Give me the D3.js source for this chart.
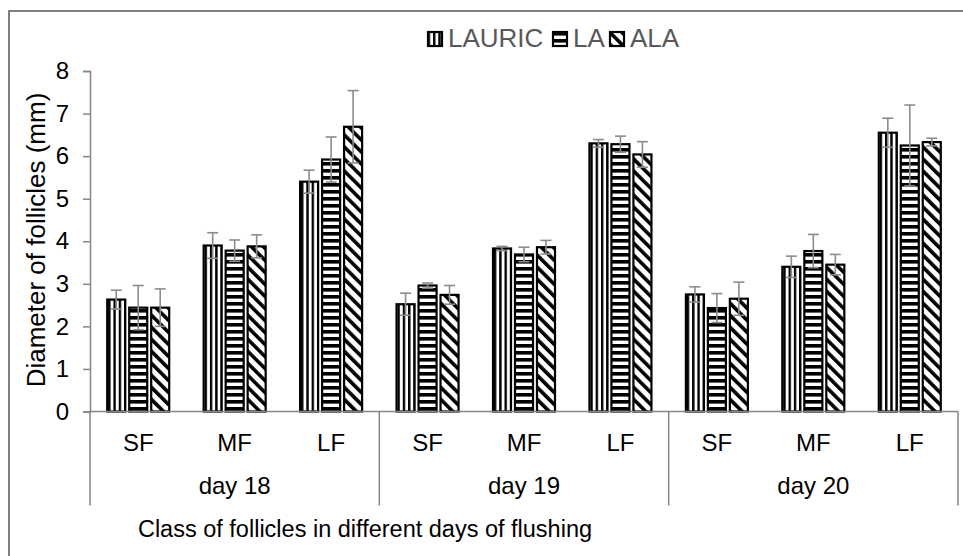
<!DOCTYPE html>
<html>
<head>
<meta charset="utf-8">
<script src="https://cdn.jsdelivr.net/npm/d3@7"></script>
<style>
  body { margin: 0; background: #fff; }
  text { font-family: "Liberation Sans", Arial, sans-serif; }
</style>
</head>
<body>
<div id="chart"></div>
<script>

// data
var days = ["day 18", "day 19", "day 20"];
var classes = ["SF", "MF", "LF"];
var series = ["LAURIC", "LA", "ALA"];
var lauric    = [2.63, 3.90, 5.40, 2.52, 3.83, 6.30, 2.75, 3.40, 6.55];
var lauricErr = [0.22, 0.30, 0.27, 0.26, 0.05, 0.09, 0.18, 0.25, 0.34];
var la        = [2.44, 3.78, 5.92, 2.96, 3.69, 6.28, 2.43, 3.77, 6.25];
var laErr     = [0.52, 0.25, 0.53, 0.06, 0.17, 0.19, 0.34, 0.39, 0.95];
var ala       = [2.44, 3.88, 6.69, 2.74, 3.86, 6.04, 2.65, 3.45, 6.33];
var alaErr    = [0.44, 0.27, 0.85, 0.22, 0.16, 0.30, 0.39, 0.24, 0.09];
var yTicks = [0, 1, 2, 3, 4, 5, 6, 7, 8];

var width = 963, height = 556;
var margin = {top: 71, right: 5, bottom: 144.5, left: 90};
var plotW = width - margin.left - margin.right,
    plotH = height - margin.top - margin.bottom;

var svg = d3.select("#chart")
  .append("svg")
    .attr("width", width)
    .attr("height", height);

// outer frame
svg.append("path")
  .attr("d", "M9," + height + "V11H" + width)
  .attr("fill", "none")
  .attr("stroke", "#555")
  .attr("stroke-width", 1.5);

var defs = svg.append("defs");

var g = svg.append("g")
  .attr("transform", "translate(" + margin.left + "," + margin.top + ")");

// category keys
var cats = [];
days.forEach(function(d) { classes.forEach(function(c) { cats.push(d + "|" + c); }); });

var values = {LAURIC: lauric, LA: la, ALA: ala};
var errs = {LAURIC: lauricErr, LA: laErr, ALA: alaErr};

var rows = [];
cats.forEach(function(k, i) {
  series.forEach(function(s) {
    rows.push({cat: k, series: s, value: values[s][i], err: errs[s][i], idx: i});
  });
});

var x0 = d3.scaleBand().domain(cats).range([0, plotW]);
var x1 = d3.scaleBand().domain(series)
  .range([x0.bandwidth() / 2 - 31, x0.bandwidth() / 2 + 31])
  .paddingInner(0.18);
var y = d3.scaleLinear().domain([0, 8]).range([plotH, 0]);

var gx = d3.scaleBand().domain(days).range([0, plotW]);

// patterns
function makePattern(id, s, px) {
  var p = defs.append("pattern")
    .attr("id", id)
    .attr("patternUnits", "userSpaceOnUse");
  if (s === "LAURIC") {
    p.attr("width", 5.3).attr("height", 10).attr("x", px + 1);
    p.append("rect").attr("width", 5.3).attr("height", 10).attr("fill", "#fff");
    p.append("rect").attr("width", 2.4).attr("height", 10).attr("fill", "#000");
  } else if (s === "LA") {
    p.attr("width", 10).attr("height", 7).attr("y", 0);
    p.append("rect").attr("width", 10).attr("height", 7).attr("fill", "#fff");
    p.append("rect").attr("width", 10).attr("height", 3.6).attr("fill", "#000");
  } else {
    p.attr("width", 8.5).attr("height", 8.5)
      .attr("patternTransform", "translate(" + px + ",0) rotate(-45)");
    p.append("rect").attr("width", 8.5).attr("height", 8.5).attr("fill", "#fff");
    p.append("rect").attr("width", 3.6).attr("height", 8.5).attr("fill", "#000");
  }
}

rows.forEach(function(d, i) {
  var bx = margin.left + x0(d.cat) + x1(d.series);
  makePattern("pat" + i, d.series, bx);
});

// bars
g.selectAll(".bar")
  .data(rows)
  .enter()
  .append("rect")
    .attr("class", "bar")
    .attr("x", function(d) { return x0(d.cat) + x1(d.series); })
    .attr("width", x1.bandwidth())
    .attr("y", function(d) { return y(d.value); })
    .attr("height", function(d) { return plotH - y(d.value); })
    .attr("fill", function(d, i) { return "url(#pat" + i + ")"; })
    .attr("stroke", "#000")
    .attr("stroke-width", 2.2);

// error bars
var eb = g.selectAll(".err")
  .data(rows)
  .enter()
  .append("g")
    .attr("class", "err")
    .attr("stroke", "#8c8c8c")
    .attr("stroke-width", 1.6);
eb.append("line")
  .attr("x1", function(d) { return x0(d.cat) + x1(d.series) + x1.bandwidth() / 2; })
  .attr("x2", function(d) { return x0(d.cat) + x1(d.series) + x1.bandwidth() / 2; })
  .attr("y1", function(d) { return y(d.value - d.err); })
  .attr("y2", function(d) { return y(d.value + d.err); });
[1, -1].forEach(function(sign) {
  eb.append("line")
    .attr("x1", function(d) { return x0(d.cat) + x1(d.series) + x1.bandwidth() / 2 - 5.5; })
    .attr("x2", function(d) { return x0(d.cat) + x1(d.series) + x1.bandwidth() / 2 + 5.5; })
    .attr("y1", function(d) { return y(d.value + sign * d.err); })
    .attr("y2", function(d) { return y(d.value + sign * d.err); });
});

// y axis
var yAxis = g.append("g")
  .call(d3.axisLeft(y).tickValues(yTicks).tickSize(7).tickPadding(14).tickFormat(d3.format("d")));
yAxis.select(".domain").attr("stroke", "#868686").attr("stroke-width", 1.5);
yAxis.selectAll(".tick line").attr("stroke", "#868686").attr("stroke-width", 1.5);
yAxis.selectAll("text")
  .attr("font-size", 24)
  .attr("fill", "#000")
  .style("font-family", "'Liberation Sans', Arial, sans-serif");

// x axis: category line, group dividers, labels
var axisCol = "#868686";
g.append("line")
  .attr("x1", 0).attr("x2", plotW)
  .attr("y1", plotH).attr("y2", plotH)
  .attr("stroke", axisCol).attr("stroke-width", 1.5);

var divs = days.map(function(d) { return gx(d); }).concat([plotW]);
g.selectAll(".divider")
  .data(divs)
  .enter()
  .append("line")
    .attr("x1", function(d) { return d; })
    .attr("x2", function(d) { return d; })
    .attr("y1", plotH)
    .attr("y2", plotH + 94)
    .attr("stroke", axisCol)
    .attr("stroke-width", 1.5);

g.selectAll(".catlabel")
  .data(cats)
  .enter()
  .append("text")
    .attr("x", function(d) { return x0(d) + x0.bandwidth() / 2; })
    .attr("y", plotH + 39)
    .attr("text-anchor", "middle")
    .attr("font-size", 24)
    .text(function(d) { return d.split("|")[1]; });

g.selectAll(".daylabel")
  .data(days)
  .enter()
  .append("text")
    .attr("x", function(d) { return gx(d) + gx.bandwidth() / 2; })
    .attr("y", plotH + 82)
    .attr("text-anchor", "middle")
    .attr("font-size", 24)
    .text(function(d) { return d; });

// axis titles
svg.append("text")
  .attr("x", 365)
  .attr("y", 537)
  .attr("text-anchor", "middle")
  .attr("font-size", 23.5)
  .text("Class of follicles in different days of flushing");

svg.append("text")
  .attr("transform", "translate(45,240) rotate(-90)")
  .attr("text-anchor", "middle")
  .attr("font-size", 26)
  .text("Diameter of follicles (mm)");

// legend
var legX = [428, 553, 610];
var leg = svg.selectAll(".legend")
  .data(series)
  .enter()
  .append("g")
    .attr("class", "legend")
    .attr("transform", function(d, i) { return "translate(" + legX[i] + ",32)"; });
leg.each(function(s, i) {
  makePattern("leg" + i, s, legX[i]);
});
leg.append("rect")
  .attr("width", 14).attr("height", 14)
  .attr("fill", function(d, i) { return "url(#leg" + i + ")"; })
  .attr("stroke", "#000")
  .attr("stroke-width", 2.2);
leg.append("text")
  .attr("x", 20)
  .attr("y", 15)
  .attr("font-size", 26)
  .attr("fill", "#595959")
  .text(function(d) { return d; });

</script>
</body>
</html>
